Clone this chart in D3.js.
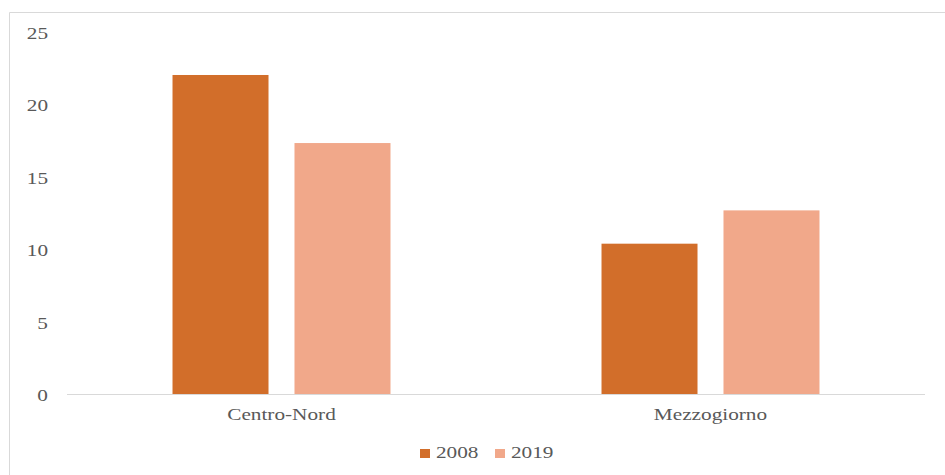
<!DOCTYPE html>
<meta charset='utf-8'>
<head>
    <title>Centro-Nord / Mezzogiorno</title>
    <script src='https://cdn.jsdelivr.net/npm/d3@7/dist/d3.min.js'></script>
</head>

<style>
    body { margin: 0; background: #fff; }
</style>

<svg></svg>

<script>

    // data
    var categories = ['Centro-Nord', 'Mezzogiorno'];
    var series = ['2008', '2019'];
    var values2008 = [22.1, 10.45];
    var values2019 = [17.4, 12.75];
    var yTicks = [0, 5, 10, 15, 20, 25];
    var colors = ['#D26E2A', '#F1A88A'];

    var vWidth = 945;
    var vHeight = 475;
    var stretch = 1.25; // text in the picture is drawn wide
    var fontFam = "'Liberation Serif', 'Times New Roman', Times, serif";

    var svg = d3.select('svg').attr('width', vWidth).attr('height', vHeight);

    function styleText(sel) {
        sel.style('font-family', fontFam)
            .style('font-size', '17px')
            .style('fill', '#595959');
    }

    // frame
    svg.append('path')
        .attr('d', 'M9.5,' + vHeight + 'V12.5H' + vWidth)
        .attr('fill', 'none')
        .attr('stroke', '#d9d9d9')
        .attr('stroke-width', 1);

    var plotLeft = 67, plotRight = 925, plotTop = 33, plotBottom = 395;

    var y = d3.scaleLinear().domain([0, 25]).range([plotBottom, plotTop]);
    var x0 = d3.scaleBand().domain(categories).range([plotLeft, plotRight]);
    var x1 = d3.scaleBand().domain(series).range([0, x0.bandwidth()])
        .paddingInner(0.213).paddingOuter(0.865);

    var rows = categories.map(function (c, i) {
        return {cat: c, vals: [values2008[i], values2019[i]]};
    });

    // y axis labels (no line)
    var yAxis = svg.append('g')
        .attr('transform', 'translate(48,0)')
        .call(d3.axisLeft(y).tickValues(yTicks).tickSize(0).tickPadding(0));
    yAxis.select('.domain').remove();
    yAxis.selectAll('text')
        .call(styleText)
        .attr('transform', 'scale(' + stretch + ',1)');

    // bars
    var groups = svg.selectAll('g.grp').data(rows).enter().append('g')
        .attr('class', 'grp')
        .attr('transform', function (d) { return 'translate(' + x0(d.cat) + ',0)'; });

    groups.selectAll('rect').data(function (d) {
        return d.vals.map(function (v, i) { return {s: series[i], v: v, i: i}; });
    }).enter().append('rect')
        .attr('x', function (d) { return x1(d.s); })
        .attr('y', function (d) { return y(d.v); })
        .attr('width', x1.bandwidth())
        .attr('height', function (d) { return y(0) - y(d.v); })
        .attr('fill', function (d) { return colors[d.i]; });

    // baseline
    svg.append('line')
        .attr('x1', plotLeft).attr('x2', plotRight)
        .attr('y1', y(0) - 0.5).attr('y2', y(0) - 0.5)
        .attr('stroke', '#d9d9d9')
        .attr('stroke-width', 1.2);

    // category labels
    svg.selectAll('text.cat').data(categories).enter().append('text')
        .attr('class', 'cat')
        .attr('text-anchor', 'middle')
        .attr('transform', function (d) {
            return 'translate(' + (x0(d) + x0.bandwidth() / 2) + ',420) scale(' + stretch + ',1)';
        })
        .call(styleText)
        .text(function (d) { return d; });

    // legend
    var legendX = [420, 495];
    var legend = svg.selectAll('g.leg').data(series).enter().append('g')
        .attr('class', 'leg')
        .attr('transform', function (d, i) { return 'translate(' + legendX[i] + ',449)'; });
    legend.append('rect')
        .attr('width', 10).attr('height', 9)
        .attr('fill', function (d, i) { return colors[i]; });
    legend.append('text')
        .attr('transform', 'translate(16,9) scale(' + stretch + ',1)')
        .call(styleText)
        .text(function (d) { return d; });

</script>
